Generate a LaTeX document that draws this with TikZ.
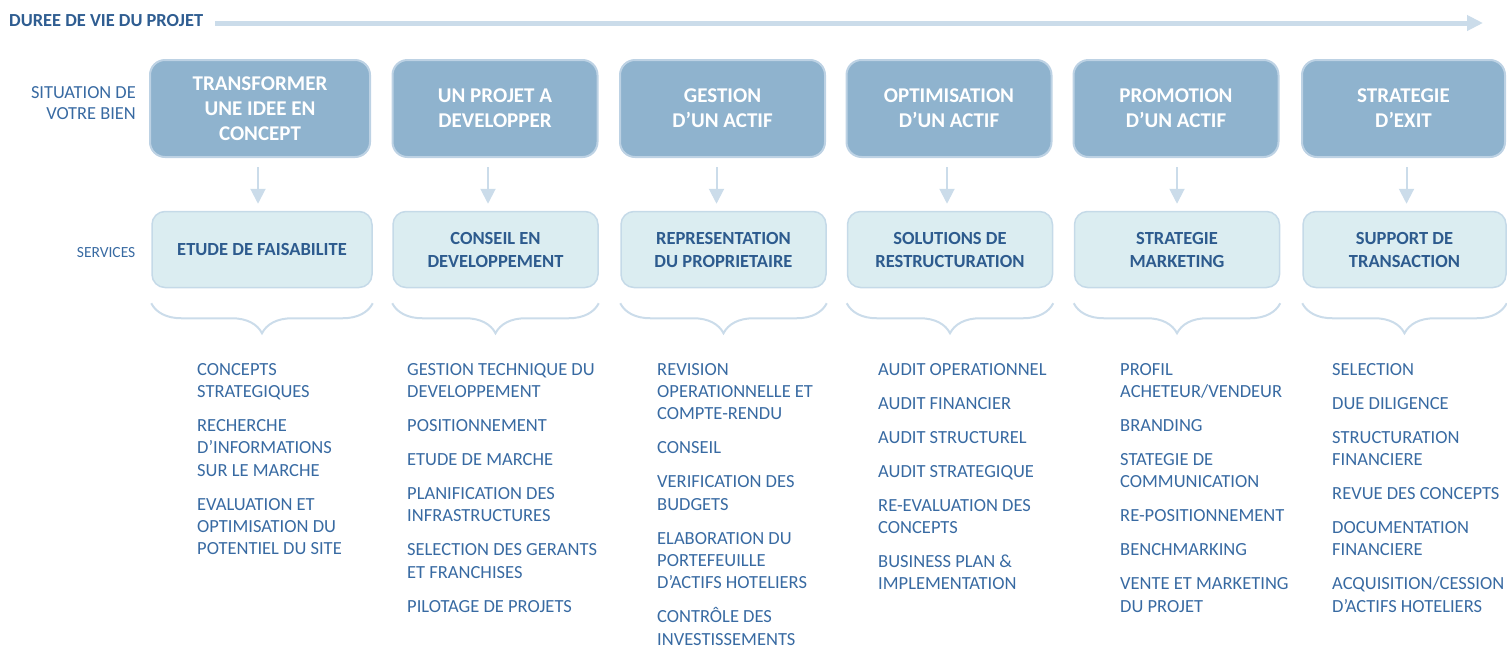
\documentclass[tikz,border=0pt]{standalone}
\usepackage{fontspec}
\setmainfont{Carlito}
\usetikzlibrary{arrows.meta,decorations.pathreplacing}

\definecolor{phasefill}{RGB}{143,179,206}
\definecolor{phaseedge}{RGB}{189,210,228}
\definecolor{servfill}{RGB}{219,237,241}
\definecolor{servedge}{RGB}{197,218,232}
\definecolor{servtext}{RGB}{45,91,142}
\definecolor{listtext}{RGB}{56,106,162}
\definecolor{titletext}{RGB}{47,93,145}
\definecolor{paleline}{RGB}{203,220,234}

\begin{document}
\begin{tikzpicture}[x=1pt,y=-1pt,
phase/.style={draw=phaseedge,line width=2pt,fill=phasefill,rounded corners=15pt,minimum width=205pt,minimum height=97pt,align=center,text=white,font=\fontsize{21}{25}\selectfont\bfseries},
service/.style={draw=servedge,line width=1.5pt,fill=servfill,rounded corners=13pt,minimum width=205pt,minimum height=76pt,align=center,text=servtext,font=\fontsize{18.5}{23}\selectfont\bfseries},
rowlabel/.style={anchor=east,align=right,inner sep=0pt,text=listtext},
tasks/.style={anchor=north west,align=left,inner sep=0pt,text=listtext,font=\fontsize{18.5}{22.3}\selectfont},
arrow/.style={-{Triangle[length=15pt,width=15pt]},line width=2pt,draw=paleline,shorten <=9pt,shorten >=7pt},
timeline/.style={-{Triangle[length=16pt,width=15pt]},line width=5pt,draw=paleline},
brace/.style={decorate,decoration={brace,mirror,amplitude=30pt},line width=2pt,draw=paleline} ]

\useasboundingbox (0,0) rectangle (1507,646);

% timeline
\node[anchor=west,inner sep=0pt,text=titletext,font=\fontsize{18.4}{22}\selectfont\bfseries] (title) at (9,21) {DUREE DE VIE DU PROJET};
\coordinate (tlend) at (1483,23);
\draw[timeline] ([xshift=12pt,yshift=-2pt]title.east) -- (tlend);

% row labels
\node[rowlabel,font=\fontsize{18.4}{20.5}\selectfont] (rowsit) at (136,103) {SITUATION DE\\VOTRE BIEN};
\node[rowlabel,font=\fontsize{15.5}{18}\selectfont] (rowserv) at (135.5,253) {SERVICES};

% situations
\node[phase,minimum width=220pt] (d1) at (260,108.5) {TRANSFORMER\\UNE IDEE EN\\CONCEPT};
\node[phase] (d2) at (495,108.5) {UN PROJET A\\DEVELOPPER};
\node[phase] (d3) at (722.5,108.5) {GESTION\\D’UN ACTIF};
\node[phase] (d4) at (949,108.5) {OPTIMISATION\\D’UN ACTIF};
\node[phase] (d5) at (1176,108.5) {PROMOTION\\D’UN ACTIF};
\node[phase,minimum width=203pt] (d6) at (1403.5,108.5) {STRATEGIE\\D’EXIT};

% services
\node[service,minimum width=220pt] (s1) at (262,249.5) {ETUDE DE FAISABILITE};
\node[service] (s2) at (495.5,249.5) {CONSEIL EN\\DEVELOPPEMENT};
\node[service] (s3) at (723.5,249.5) {REPRESENTATION\\DU PROPRIETAIRE};
\node[service] (s4) at (950,249.5) {SOLUTIONS DE\\RESTRUCTURATION};
\node[service] (s5) at (1177,249.5) {STRATEGIE\\MARKETING};
\node[service,minimum width=203pt] (s6) at (1404.5,249.5) {SUPPORT DE\\TRANSACTION};

\draw[arrow] ([xshift=-2pt]d1.south) -- ([xshift=-2pt]d1.south |- s1.north);
\draw[arrow] ([xshift=-7pt]d2.south) -- ([xshift=-7pt]d2.south |- s2.north);
\draw[arrow] ([xshift=-6pt]d3.south) -- ([xshift=-6pt]d3.south |- s3.north);
\draw[arrow] ([xshift=-2pt]d4.south) -- ([xshift=-2pt]d4.south |- s4.north);
\draw[arrow] ([xshift=1pt]d5.south) -- ([xshift=1pt]d5.south |- s5.north);
\draw[arrow] ([xshift=3pt]d6.south) -- ([xshift=3pt]d6.south |- s6.north);

% braces
\draw[brace] ([yshift=-15pt]s1.south west) -- ([yshift=-15pt]s1.south east);
\draw[brace] ([yshift=-15pt]s2.south west) -- ([yshift=-15pt]s2.south east);
\draw[brace] ([yshift=-15pt]s3.south west) -- ([yshift=-15pt]s3.south east);
\draw[brace] ([yshift=-15pt]s4.south west) -- ([yshift=-15pt]s4.south east);
\draw[brace] ([yshift=-15pt]s5.south west) -- ([yshift=-15pt]s5.south east);
\draw[brace] ([yshift=-15pt]s6.south west) -- ([yshift=-15pt]s6.south east);

% task lists
\node[tasks] (t1) at (197,363) {CONCEPTS\\STRATEGIQUES\\[11.7pt]RECHERCHE\\D’INFORMATIONS\\SUR LE MARCHE\\[11.7pt]EVALUATION ET\\OPTIMISATION DU\\POTENTIEL DU SITE};
\node[tasks] (t2) at (407,363) {GESTION TECHNIQUE DU\\DEVELOPPEMENT\\[11.7pt]POSITIONNEMENT\\[11.7pt]ETUDE DE MARCHE\\[11.7pt]PLANIFICATION DES\\INFRASTRUCTURES\\[11.7pt]SELECTION DES GERANTS\\ET FRANCHISES\\[11.7pt]PILOTAGE DE PROJETS};
\node[tasks] (t3) at (657,363) {REVISION\\OPERATIONNELLE ET\\COMPTE-RENDU\\[11.7pt]CONSEIL\\[11.7pt]VERIFICATION DES\\BUDGETS\\[11.7pt]ELABORATION DU\\PORTEFEUILLE\\D’ACTIFS HOTELIERS\\[11.7pt]CONTRÔLE DES\\INVESTISSEMENTS};
\node[tasks] (t4) at (878,363) {AUDIT OPERATIONNEL\\[11.7pt]AUDIT FINANCIER\\[11.7pt]AUDIT STRUCTUREL\\[11.7pt]AUDIT STRATEGIQUE\\[11.7pt]RE-EVALUATION DES\\CONCEPTS\\[11.7pt]BUSINESS PLAN \&\\IMPLEMENTATION};
\node[tasks] (t5) at (1120,363) {PROFIL\\ACHETEUR/VENDEUR\\[11.7pt]BRANDING\\[11.7pt]STATEGIE DE\\COMMUNICATION\\[11.7pt]RE-POSITIONNEMENT\\[11.7pt]BENCHMARKING\\[11.7pt]VENTE ET MARKETING\\DU PROJET};
\node[tasks] (t6) at (1332,363) {SELECTION\\[11.7pt]DUE DILIGENCE\\[11.7pt]STRUCTURATION\\FINANCIERE\\[11.7pt]REVUE DES CONCEPTS\\[11.7pt]DOCUMENTATION\\FINANCIERE\\[11.7pt]ACQUISITION/CESSION\\D’ACTIFS HOTELIERS};

\end{tikzpicture}
\end{document}
